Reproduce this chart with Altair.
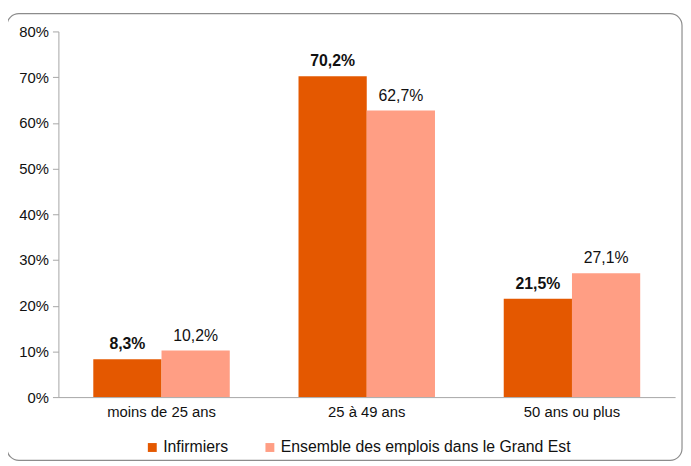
import altair as alt
import pandas as pd

categories = ["moins de 25 ans", "25 à 49 ans", "50 ans ou plus"]
series = ["Infirmiers", "Ensemble des emplois dans le Grand Est"]
infirmiers = [8.3, 70.2, 21.5]
ensemble = [10.2, 62.7, 27.1]
colors = ["#E45800", "#FF9E84"]

rows = []
for s, vals in zip(series, [infirmiers, ensemble]):
    for c, v in zip(categories, vals):
        rows.append({"cat": c, "serie": s, "val": v,
                     "label": f"{v:.1f}".replace(".", ",") + "%"})
df = pd.DataFrame(rows)

FONT = "Liberation Sans"

frame = alt.Chart(pd.DataFrame({"a": [0]})).mark_rect(
    fill=None, stroke="#8c8c8c", strokeWidth=1.2, cornerRadius=12
).encode(x=alt.value(-52), x2=alt.value(631), y=alt.value(-18), y2=alt.value(434))

base = alt.Chart(df).encode(
    x=alt.X("cat:N", sort=categories, title=None,
            scale=alt.Scale(paddingInner=0.335, paddingOuter=0.17),
            axis=alt.Axis(labelAngle=0, ticks=False, domainColor="#a6a6a6",
                          labelFont=FONT, labelFontSize=15, labelColor="#111111",
                          labelPadding=8)),
    xOffset=alt.XOffset("serie:N", sort=series, scale=alt.Scale(paddingInner=0)),
    y=alt.Y("val:Q", title=None, scale=alt.Scale(domain=[0, 80]),
            axis=alt.Axis(values=[0, 10, 20, 30, 40, 50, 60, 70, 80],
                          labelExpr="datum.value + '%'", grid=False,
                          domainColor="#a6a6a6", tickColor="#a6a6a6", tickSize=6,
                          labelFont=FONT, labelFontSize=15, labelColor="#111111",
                          labelPadding=4)),
)

bars = base.mark_bar().encode(
    color=alt.Color("serie:N", sort=series,
                    scale=alt.Scale(domain=series, range=colors),
                    legend=alt.Legend(title=None, orient="none", direction="horizontal",
                                      legendX=87, legendY=413, symbolType="square",
                                      symbolSize=81, symbolStrokeWidth=0,
                                      labelFont=FONT, labelFontSize=16, labelLimit=500,
                                      labelColor="#111111", columnPadding=34,
                                      labelOffset=3))
)

labels_bold = base.mark_text(dy=-10, baseline="alphabetic", font=FONT, fontSize=16,
                             color="#111111", fontWeight="bold").encode(
    text="label:N").transform_filter(alt.datum.serie == "Infirmiers")
labels_norm = base.mark_text(dy=-10, baseline="alphabetic", font=FONT, fontSize=16,
                             color="#111111", fontWeight="normal").encode(
    text="label:N").transform_filter(alt.datum.serie != "Infirmiers")

chart = alt.layer(frame, bars, labels_bold, labels_norm).properties(
    width=624, height=370,
    autosize=alt.AutoSizeParams(type="none"),
    padding={"left": 51, "top": 21, "right": 8, "bottom": 67},
).configure_view(stroke=None)

chart.save("out.html", embed_options={"renderer": "svg", "actions": False})
